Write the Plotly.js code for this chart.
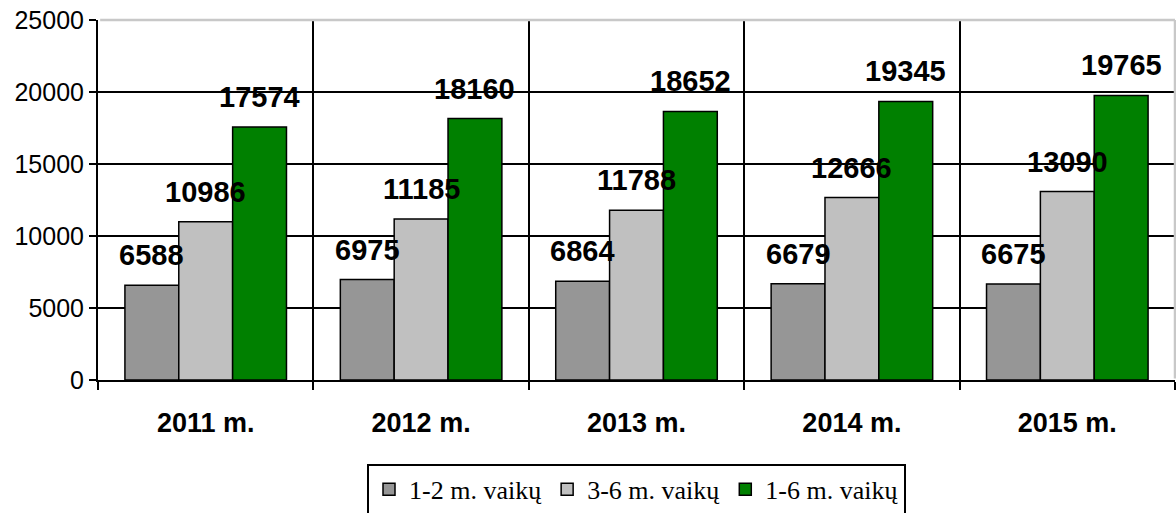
<!DOCTYPE html>
<html>
<head>
<meta charset="utf-8">
<script src="https://cdn.plot.ly/plotly-3.0.1.min.js"></script>
<style>html,body{margin:0;padding:0;background:#fff;}#chart{width:1176px;height:513px;}</style>
</head>
<body>
<div id="chart"></div>
<script>
const years = ["2011 m.", "2012 m.", "2013 m.", "2014 m.", "2015 m."];
const seriesNames = ["1-2 m. vaikų", "3-6 m. vaikų", "1-6 m. vaikų"];
const vals12 = [6588, 6975, 6864, 6679, 6675];
const vals36 = [10986, 11185, 11788, 12666, 13090];
const vals16 = [17574, 18160, 18652, 19345, 19765];
const colors = ["#969696", "#c0c0c0", "#008000"];
const yTicks = [0, 5000, 10000, 15000, 20000, 25000];

const allVals = [vals12, vals36, vals16];
const traces = allVals.map((v, i) => ({
  type: "bar",
  name: seriesNames[i],
  x: years,
  y: v,
  marker: {color: colors[i], line: {color: "#000", width: 1.5}},
  hoverinfo: "none"
}));

const plotW = 1176 - 98 - 1;
const catW = plotW / years.length;
const bargap = 0.25;
const barW = catW * (1 - bargap) / 3;

const annotations = [];
allVals.forEach((v, i) => {
  v.forEach((val, j) => {
    annotations.push({
      x: years[j], y: val, xref: "x", yref: "y",
      text: String(val), showarrow: false,
      xanchor: "center", yanchor: "bottom",
      xshift: (i - 1) * barW, yshift: 12,
      font: {family: "Liberation Sans, Arial, sans-serif", size: 29, color: "#000", weight: "bold"}
    });
  });
});

const layout = {
  width: 1176, height: 513,
  margin: {l: 98, r: 1, t: 20, b: 133, autoexpand: false},
  paper_bgcolor: "#fff", plot_bgcolor: "#fff",
  barmode: "group", bargap: bargap, bargroupgap: 0,
  showlegend: true,
  legend: {
    orientation: "h", x: 0.5, xanchor: "center", y: -0.233, yanchor: "top",
    bordercolor: "#000", borderwidth: 2, bgcolor: "#fff",
    font: {family: "Liberation Serif, Times New Roman, serif", size: 26, color: "#000"},
    traceorder: "normal"
  },
  xaxis: {
    type: "category",
    tickson: "boundaries",
    showgrid: true, gridcolor: "#000", gridwidth: 2,
    showline: true, linecolor: "#000", linewidth: 2,
    ticks: "outside", ticklen: 8, tickwidth: 2, tickcolor: "#000",
    ticklabelstandoff: 18,
    tickfont: {family: "Liberation Sans, Arial, sans-serif", size: 27, color: "#000", weight: "bold"},
    fixedrange: true
  },
  yaxis: {
    range: [0, 25000],
    tickvals: yTicks,
    ticktext: yTicks.map(String),
    showgrid: true, gridcolor: "#000", gridwidth: 2,
    zeroline: false,
    showline: true, linecolor: "#000", linewidth: 2,
    ticks: "outside", ticklen: 7, tickwidth: 2, tickcolor: "#000",
    tickfont: {family: "Liberation Sans, Arial, sans-serif", size: 25, color: "#000"},
    fixedrange: true
  },
  shapes: [
    {type: "line", xref: "paper", yref: "paper", x0: 0.002, x1: 1, y0: 1, y1: 1, line: {color: "#c8c8c8", width: 2.5}, layer: "above"},
    {type: "line", xref: "paper", yref: "paper", x0: 1, x1: 1, y0: 0.004, y1: 1, line: {color: "#c8c8c8", width: 2.5}, layer: "above"}
  ],
  annotations: annotations
};

Plotly.newPlot("chart", traces, layout, {displayModeBar: false, staticPlot: true});
</script>
</body>
</html>
